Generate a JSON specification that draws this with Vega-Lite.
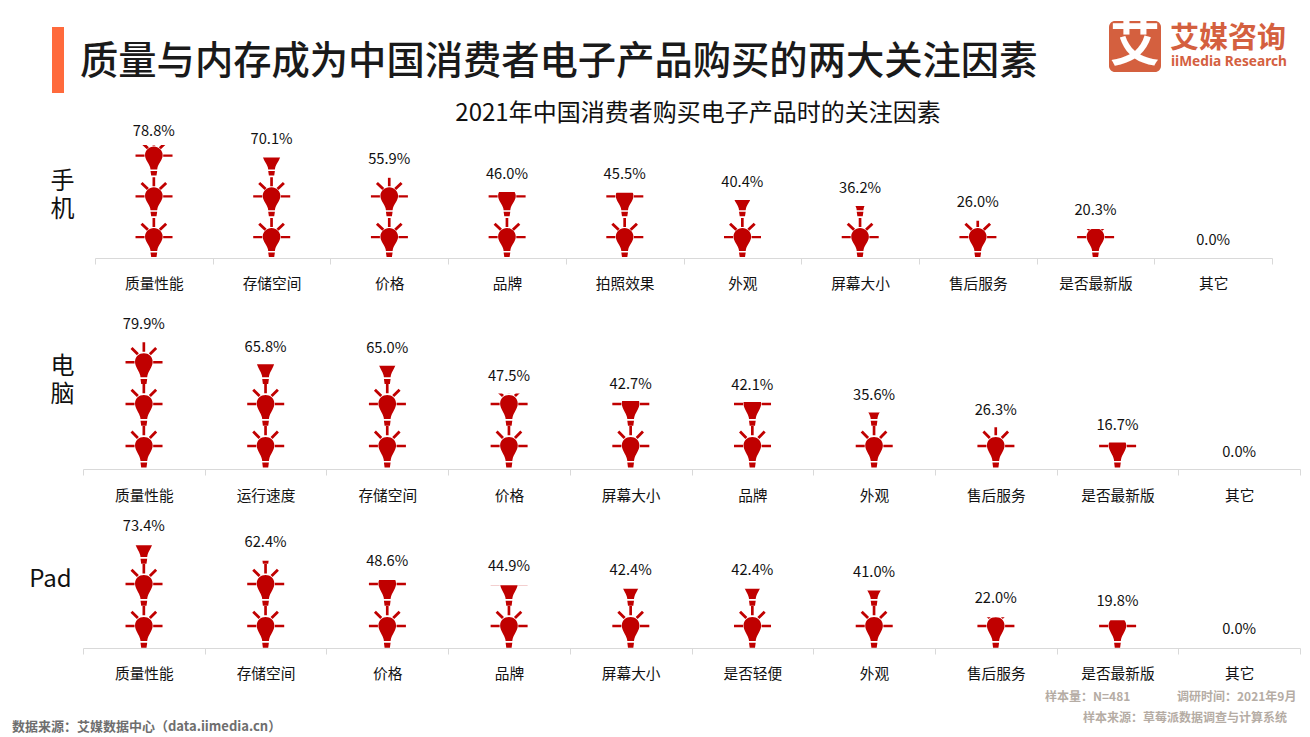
{
"$schema":"https://vega.github.io/schema/vega-lite/v6.json",
"padding":0,"spacing":0,"bounds":"flush","background":"#ffffff",
"config":{"view":{"stroke":null},"font":"Noto Sans CJK SC","text":{"font":"Noto Sans CJK SC"},"title":{"font":"Noto Sans CJK SC"},"axis":{"labelFont":"Noto Sans CJK SC","titleFont":"Noto Sans CJK SC"}},
"datasets":{
"phone":[{"factor":"质量性能","value":78.8,"label":"78.8%"},{"factor":"存储空间","value":70.1,"label":"70.1%"},{"factor":"价格","value":55.9,"label":"55.9%"},{"factor":"品牌","value":46.0,"label":"46.0%"},{"factor":"拍照效果","value":45.5,"label":"45.5%"},{"factor":"外观","value":40.4,"label":"40.4%"},{"factor":"屏幕大小","value":36.2,"label":"36.2%"},{"factor":"售后服务","value":26.0,"label":"26.0%"},{"factor":"是否最新版","value":20.3,"label":"20.3%"},{"factor":"其它","value":0,"label":"0.0%"}],
"pc":[{"factor":"质量性能","value":79.9,"label":"79.9%"},{"factor":"运行速度","value":65.8,"label":"65.8%"},{"factor":"存储空间","value":65.0,"label":"65.0%"},{"factor":"价格","value":47.5,"label":"47.5%"},{"factor":"屏幕大小","value":42.7,"label":"42.7%"},{"factor":"品牌","value":42.1,"label":"42.1%"},{"factor":"外观","value":35.6,"label":"35.6%"},{"factor":"售后服务","value":26.3,"label":"26.3%"},{"factor":"是否最新版","value":16.7,"label":"16.7%"},{"factor":"其它","value":0,"label":"0.0%"}],
"pad":[{"factor":"质量性能","value":73.4,"label":"73.4%"},{"factor":"存储空间","value":62.4,"label":"62.4%"},{"factor":"价格","value":48.6,"label":"48.6%"},{"factor":"品牌","value":44.9,"label":"44.9%"},{"factor":"屏幕大小","value":42.4,"label":"42.4%"},{"factor":"是否轻便","value":42.4,"label":"42.4%"},{"factor":"外观","value":41.0,"label":"41.0%"},{"factor":"售后服务","value":22.0,"label":"22.0%"},{"factor":"是否最新版","value":19.8,"label":"19.8%"},{"factor":"其它","value":0,"label":"0.0%"}],
"one":[{"note":"annotation"}]
},
"vconcat":[
{"width":1310,"height":110,"data":{"name":"one"},
"title":{"text":"质量与内存成为中国消费者电子产品购买的两大关注因素","anchor":"start","frame":"group","dx":80,"offset":-82,"fontSize":38.3,"fontWeight":500,"color":"#1a1a1a"},
"encoding":{},
"layer":[
{"mark":{"type":"rect","color":"#ff6a3c"},"encoding":{"x":{"datum":52,"type":"quantitative","scale":{"domain":[0,1310],"nice":false},"axis":null},"x2":{"datum":64},"y":{"datum":27,"type":"quantitative","scale":{"domain":[110,0],"nice":false},"axis":null},"y2":{"datum":93}}},
{"mark":{"type":"rect","color":"#d4603f","cornerRadius":6},"encoding":{"x":{"datum":1109,"type":"quantitative"},"x2":{"datum":1161},"y":{"datum":21,"type":"quantitative"},"y2":{"datum":72}}},
{"mark":{"type":"text","text":"艾","color":"#ffffff","fontSize":50,"fontWeight":"bold","align":"center","baseline":"middle"},"encoding":{"x":{"datum":1135,"type":"quantitative"},"y":{"datum":46,"type":"quantitative"}}},
{"mark":{"type":"text","text":"艾媒咨询","color":"#d4603f","fontSize":29,"fontWeight":"bold","align":"left","baseline":"middle"},"encoding":{"x":{"datum":1170,"type":"quantitative"},"y":{"datum":39,"type":"quantitative"}}},
{"mark":{"type":"text","text":"iiMedia Research","color":"#d4603f","fontSize":13.7,"fontWeight":"bold","font":"Noto Sans","align":"left","baseline":"middle"},"encoding":{"x":{"datum":1171,"type":"quantitative"},"y":{"datum":62,"type":"quantitative"}}}
]},
{"width":1310,"height":148,"data":{"name":"phone"},
"title":{"text":"2021年中国消费者购买电子产品时的关注因素","anchor":"middle","frame":"group","dx":43,"offset":-16,"fontSize":24,"fontWeight":"normal","color":"#111111"},
"encoding":{"x":{"field":"factor","type":"nominal","sort":null,"scale":{"range":[95,1272],"paddingInner":0,"paddingOuter":0},"axis":{"title":null,"labelAngle":0,"labelFontSize":14.7,"labelColor":"#111111","labelPadding":12,"tickBand":"extent","tickSize":6,"tickColor":"#d9d9d9","domainColor":"#d9d9d9","zindex":1}}},
"layer":[
{"mark":{"type":"point","filled":true,"opacity":1,"color":"#c00000","size":4444,"shape":"M-.1 .42L-.11 .36C-.13 .26-.265 .12-.265-.01C-.265-.16-.14-.27 0-.27C.14-.27.265-.16.265-.01C.265 .12.13 .26.11 .36L.1 .42ZM-.1 .46L.1 .46L.08 .6L-.08 .6ZM-.55-.035L-.28-.035L-.28 .035L-.55 .035ZM.28-.035L.56-.035L.56 .035L.28 .035ZM-.04-.57L.04-.57L.04-.3L-.04-.3ZM-.4-.37L-.34-.43L-.15-.25L-.21-.19ZM.4-.37L.34-.43L.15-.25L.21-.19Z"},
"encoding":{"y":{"datum":14.6,"type":"quantitative","scale":{"domain":[0,103.2],"nice":false},"axis":{"title":["手","机"],"titleX":62,"titleY":71,"titleAngle":0,"titleAlign":"center","titleBaseline":"middle","titleFontSize":24,"titleFontWeight":"normal","titleColor":"#111111","titleLineHeight":28,"labels":false,"ticks":false,"domain":false,"grid":false}}}},
{"mark":{"type":"point","filled":true,"opacity":1,"color":"#c00000","size":4444,"shape":"M-.1 .42L-.11 .36C-.13 .26-.265 .12-.265-.01C-.265-.16-.14-.27 0-.27C.14-.27.265-.16.265-.01C.265 .12.13 .26.11 .36L.1 .42ZM-.1 .46L.1 .46L.08 .6L-.08 .6ZM-.55-.035L-.28-.035L-.28 .035L-.55 .035ZM.28-.035L.56-.035L.56 .035L.28 .035ZM-.04-.57L.04-.57L.04-.3L-.04-.3ZM-.4-.37L-.34-.43L-.15-.25L-.21-.19ZM.4-.37L.34-.43L.15-.25L.21-.19Z"},"encoding":{"y":{"datum":43,"type":"quantitative"}}},
{"mark":{"type":"point","filled":true,"opacity":1,"color":"#c00000","size":4444,"shape":"M-.1 .42L-.11 .36C-.13 .26-.265 .12-.265-.01C-.265-.16-.14-.27 0-.27C.14-.27.265-.16.265-.01C.265 .12.13 .26.11 .36L.1 .42ZM-.1 .46L.1 .46L.08 .6L-.08 .6ZM-.55-.035L-.28-.035L-.28 .035L-.55 .035ZM.28-.035L.56-.035L.56 .035L.28 .035ZM-.04-.57L.04-.57L.04-.3L-.04-.3ZM-.4-.37L-.34-.43L-.15-.25L-.21-.19ZM.4-.37L.34-.43L.15-.25L.21-.19Z"},"encoding":{"y":{"datum":71.4,"type":"quantitative"}}},
{"mark":{"type":"bar","color":"#ffffff"},"encoding":{"y":{"field":"value","type":"quantitative"},"y2":{"datum":92}}},
{"transform":[{"filter":"datum.value<78"}],"mark":{"type":"text","fontSize":14.7,"color":"#111111","baseline":"middle","dy":-17.5},"encoding":{"y":{"field":"value","type":"quantitative"},"text":{"field":"label"}}},
{"transform":[{"filter":"datum.value>=78"}],"mark":{"type":"text","fontSize":14.7,"color":"#111111","baseline":"middle","dy":-13},"encoding":{"y":{"field":"value","type":"quantitative"},"text":{"field":"label"}}}
]},
{"width":1310,"height":211,"data":{"name":"pc"},
"encoding":{"x":{"field":"factor","type":"nominal","sort":null,"scale":{"range":[83,1300],"paddingInner":0,"paddingOuter":0},"axis":{"title":null,"labelAngle":0,"labelFontSize":14.7,"labelColor":"#111111","labelPadding":13,"tickBand":"extent","tickSize":6,"tickColor":"#d9d9d9","domainColor":"#d9d9d9","zindex":1}}},
"layer":[
{"mark":{"type":"point","filled":true,"opacity":1,"color":"#c00000","size":4444,"shape":"M-.1 .45L-.11 .39C-.13 .28-.265 .13-.265-.01C-.265-.17-.14-.27 0-.27C.14-.27.265-.17.265-.01C.265 .13.13 .28.11 .39L.1 .45ZM-.1 .5L.1 .5L.08 .65L-.08 .65ZM-.55-.038L-.28-.038L-.28 .038L-.55 .038ZM.28-.038L.56-.038L.56 .038L.28 .038ZM-.04-.6L.04-.6L.04-.32L-.04-.32ZM-.4-.4L-.34-.46L-.15-.27L-.21-.21ZM.4-.4L.34-.46L.15-.27L.21-.21Z"},
"encoding":{"y":{"datum":14.5,"type":"quantitative","scale":{"domain":[0,132.7],"nice":false},"axis":{"title":["电","脑"],"titleX":62,"titleY":108,"titleAngle":0,"titleAlign":"center","titleBaseline":"middle","titleFontSize":24,"titleFontWeight":"normal","titleColor":"#111111","titleLineHeight":28,"labels":false,"ticks":false,"domain":false,"grid":false}}}},
{"mark":{"type":"point","filled":true,"opacity":1,"color":"#c00000","size":4444,"shape":"M-.1 .45L-.11 .39C-.13 .28-.265 .13-.265-.01C-.265-.17-.14-.27 0-.27C.14-.27.265-.17.265-.01C.265 .13.13 .28.11 .39L.1 .45ZM-.1 .5L.1 .5L.08 .65L-.08 .65ZM-.55-.038L-.28-.038L-.28 .038L-.55 .038ZM.28-.038L.56-.038L.56 .038L.28 .038ZM-.04-.6L.04-.6L.04-.32L-.04-.32ZM-.4-.4L-.34-.46L-.15-.27L-.21-.21ZM.4-.4L.34-.46L.15-.27L.21-.21Z"},"encoding":{"y":{"datum":40.9,"type":"quantitative"}}},
{"mark":{"type":"point","filled":true,"opacity":1,"color":"#c00000","size":4444,"shape":"M-.1 .45L-.11 .39C-.13 .28-.265 .13-.265-.01C-.265-.17-.14-.27 0-.27C.14-.27.265-.17.265-.01C.265 .13.13 .28.11 .39L.1 .45ZM-.1 .5L.1 .5L.08 .65L-.08 .65ZM-.55-.038L-.28-.038L-.28 .038L-.55 .038ZM.28-.038L.56-.038L.56 .038L.28 .038ZM-.04-.6L.04-.6L.04-.32L-.04-.32ZM-.4-.4L-.34-.46L-.15-.27L-.21-.21ZM.4-.4L.34-.46L.15-.27L.21-.21Z"},"encoding":{"y":{"datum":67.1,"type":"quantitative"}}},
{"mark":{"type":"bar","color":"#ffffff"},"encoding":{"y":{"field":"value","type":"quantitative"},"y2":{"datum":86}}},
{"mark":{"type":"text","fontSize":14.7,"color":"#111111","baseline":"middle","dy":-16.5},"encoding":{"y":{"field":"value","type":"quantitative"},"text":{"field":"label"}}}
]},
{"width":1310,"height":179,"data":{"name":"pad"},
"encoding":{"x":{"field":"factor","type":"nominal","sort":null,"scale":{"range":[83,1300],"paddingInner":0,"paddingOuter":0},"axis":{"title":null,"labelAngle":0,"labelFontSize":14.7,"labelColor":"#111111","labelPadding":12,"tickBand":"extent","tickSize":6,"tickColor":"#d9d9d9","domainColor":"#d9d9d9","zindex":1}}},
"layer":[
{"mark":{"type":"point","filled":true,"opacity":1,"color":"#c00000","size":4444,"shape":"M-.1 .45L-.11 .39C-.13 .28-.265 .13-.265-.01C-.265-.17-.14-.27 0-.27C.14-.27.265-.17.265-.01C.265 .13.13 .28.11 .39L.1 .45ZM-.1 .5L.1 .5L.08 .65L-.08 .65ZM-.55-.038L-.28-.038L-.28 .038L-.55 .038ZM.28-.038L.56-.038L.56 .038L.28 .038ZM-.04-.6L.04-.6L.04-.32L-.04-.32ZM-.4-.4L-.34-.46L-.15-.27L-.21-.21ZM.4-.4L.34-.46L.15-.27L.21-.21Z"},
"encoding":{"y":{"datum":15.7,"type":"quantitative","scale":{"domain":[0,127.9],"nice":false},"axis":{"title":"Pad","titleX":50,"titleY":110,"titleAngle":0,"titleAlign":"center","titleBaseline":"middle","titleFontSize":24,"titleFontWeight":"normal","titleColor":"#111111","labels":false,"ticks":false,"domain":false,"grid":false}}}},
{"mark":{"type":"point","filled":true,"opacity":1,"color":"#c00000","size":4444,"shape":"M-.1 .45L-.11 .39C-.13 .28-.265 .13-.265-.01C-.265-.17-.14-.27 0-.27C.14-.27.265-.17.265-.01C.265 .13.13 .28.11 .39L.1 .45ZM-.1 .5L.1 .5L.08 .65L-.08 .65ZM-.55-.038L-.28-.038L-.28 .038L-.55 .038ZM.28-.038L.56-.038L.56 .038L.28 .038ZM-.04-.6L.04-.6L.04-.32L-.04-.32ZM-.4-.4L-.34-.46L-.15-.27L-.21-.21ZM.4-.4L.34-.46L.15-.27L.21-.21Z"},"encoding":{"y":{"datum":45.7,"type":"quantitative"}}},
{"mark":{"type":"point","filled":true,"opacity":1,"color":"#c00000","size":4444,"shape":"M-.1 .45L-.11 .39C-.13 .28-.265 .13-.265-.01C-.265-.17-.14-.27 0-.27C.14-.27.265-.17.265-.01C.265 .13.13 .28.11 .39L.1 .45ZM-.1 .5L.1 .5L.08 .65L-.08 .65ZM-.55-.038L-.28-.038L-.28 .038L-.55 .038ZM.28-.038L.56-.038L.56 .038L.28 .038ZM-.04-.6L.04-.6L.04-.32L-.04-.32ZM-.4-.4L-.34-.46L-.15-.27L-.21-.21ZM.4-.4L.34-.46L.15-.27L.21-.21Z"},"encoding":{"y":{"datum":75.7,"type":"quantitative"}}},
{"mark":{"type":"bar","color":"#ffffff"},"encoding":{"y":{"field":"value","type":"quantitative"},"y2":{"datum":98}}},
{"mark":{"type":"text","fontSize":14.7,"color":"#111111","baseline":"middle","dy":-18},"encoding":{"y":{"field":"value","type":"quantitative"},"text":{"field":"label"}}}
]},
{"width":1310,"height":85,"data":{"name":"one"},
"layer":[
{"mark":{"type":"text","text":"样本量：N=481","color":"#b5aca4","fontSize":12,"fontWeight":"bold","align":"left","baseline":"middle"},"encoding":{"x":{"datum":1045,"type":"quantitative","scale":{"domain":[0,1310],"nice":false},"axis":null},"y":{"datum":49,"type":"quantitative","scale":{"domain":[85,0],"nice":false},"axis":null}}},
{"mark":{"type":"text","text":"调研时间：2021年9月","color":"#b5aca4","fontSize":12,"fontWeight":"bold","align":"left","baseline":"middle"},"encoding":{"x":{"datum":1177,"type":"quantitative"},"y":{"datum":49,"type":"quantitative"}}},
{"mark":{"type":"text","text":"样本来源：草莓派数据调查与计算系统","color":"#b5aca4","fontSize":12,"fontWeight":"bold","align":"left","baseline":"middle"},"encoding":{"x":{"datum":1083,"type":"quantitative"},"y":{"datum":70,"type":"quantitative"}}},
{"mark":{"type":"text","text":"数据来源：艾媒数据中心（data.iimedia.cn）","color":"#6e6e6e","fontSize":13,"fontWeight":"bold","align":"left","baseline":"middle"},"encoding":{"x":{"datum":12,"type":"quantitative"},"y":{"datum":79,"type":"quantitative"}}}
]}
]
}
